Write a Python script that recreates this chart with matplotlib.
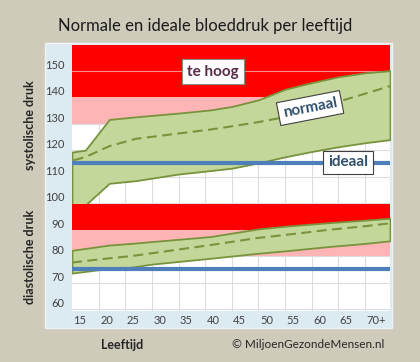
import matplotlib
matplotlib.use("Agg")
import matplotlib.pyplot as plt
from matplotlib.patches import Rectangle
from matplotlib.transforms import blended_transform_factory, ScaledTranslation

# ---- data ----
age_ticks = [15, 20, 25, 30, 35, 40, 45, 50, 55, 60, 65, 70]
age_labels = ["15", "20", "25", "30", "35", "40", "45", "50", "55", "60", "65", "70+"]
y_ticks = [60, 70, 80, 90, 100, 110, 120, 130, 140, 150]

# systolic band
sys_age = [15, 17.5, 22, 27, 35, 41, 45, 50, 55, 60, 65, 70, 74.7]
sys_low = [99.3, 99.3, 107.5, 108.5, 111, 112.3, 113.2, 115.2, 117.5, 119.5, 121.3, 122.8, 124]
sys_high = [119.3, 120, 131.6, 132.6, 134, 135.2, 136.5, 139, 143, 145.5, 147.7, 149.2, 150]
sys_mid_age = [15.3, 17.5, 22, 27, 35, 41, 45, 50, 55, 60, 65, 70, 74.7]
sys_mid = [116.2, 117.4, 121.5, 124.3, 126.3, 127.8, 129, 130.6, 132.5, 135.3, 138.3, 141.3, 144.2]

# diastolic band
dia_age = [15, 22, 26, 30, 41, 50, 55, 63, 70, 74.7]
dia_low = [73.6, 75.4, 75.8, 77, 79.2, 81.1, 82, 83.6, 84.8, 85.8]
dia_high = [82.2, 84.2, 84.8, 85.5, 87.4, 90.3, 91.3, 92.6, 93.6, 94.3]
dia_mid = [77.6, 79.2, 80, 81.1, 84.2, 86.9, 88, 89.9, 91.3, 92.4]

ideal_sys = 115
ideal_dia = 75

# zones: (low, high, colour)
zones = [(140, 159.7, "#ff0000"), (130, 140, "#ffb5b5"),
         (80, 90, "#ffb5b5")]
dia_red = (90, 99.5)

W, H = 420, 362
fig = plt.figure(figsize=(W / 100, H / 100), dpi=100)
fig.patch.set_facecolor("#cfcbbb")

# light-blue panel
panel = Rectangle((45 / W, 1 - 328 / H), 347 / W, 285 / H,
                  transform=fig.transFigure, facecolor="#dceaf2",
                  edgecolor="#eef4f7", lw=1.0, zorder=-5)
fig.patches.append(panel)

ax = fig.add_axes([72 / W, 1 - 311 / H, 318 / W, 266 / H])
ax.set_zorder(5)
ax.set_facecolor("white")
ax.set_xlim(15, 74.7)
ax.set_ylim(59.3, 159.7)
for s in ax.spines.values():
    s.set_visible(False)
ax.set_xticks([])
ax.set_yticks([])

# grid
for a in age_ticks[1:]:
    ax.axvline(a, color="#dcdcdc", lw=0.8, zorder=0.5)
for v in y_ticks:
    ax.axhline(v, color="#dcdcdc", lw=0.8, zorder=0.5)

# zones
for lo, hi, c in zones:
    ax.axhspan(lo, hi, color=c, lw=0, zorder=1)
ax.axhline(150, color="#ff8c8c", lw=0.8, zorder=1.5)

# systolic band
ax.fill_between(sys_age, sys_low, sys_high, facecolor="#c4d79b",
                edgecolor="#77933c", lw=1.3, zorder=2)
ax.axhspan(dia_red[0], dia_red[1], color="#ff0000", lw=0, zorder=2.5)
# diastolic band
ax.fill_between(dia_age, dia_low, dia_high, facecolor="#c4d79b",
                edgecolor="#77933c", lw=1.3, zorder=3)

dash = (0, (4.8, 2.6))
ax.plot(sys_mid_age, sys_mid, color="#77933c", lw=1.5, ls=dash, zorder=3.5)
ax.plot(dia_age, dia_mid, color="#77933c", lw=1.5, ls=dash, zorder=3.5)

ax.axhline(ideal_sys, color="#4f7fbb", lw=3.0, zorder=4)
ax.axhline(ideal_dia, color="#4f7fbb", lw=3.0, zorder=4)

# tick labels
tf_y = blended_transform_factory(ax.transAxes, ax.transData) + \
    ScaledTranslation(-0.075, 0.055, fig.dpi_scale_trans)
for v in y_ticks:
    ax.text(0, v, str(v), transform=tf_y, ha="right", va="center",
            fontsize=8, color="#404040", family="Lato", clip_on=False)
tf_x = blended_transform_factory(ax.transData, ax.transAxes) + \
    ScaledTranslation(0.015, -0.10, fig.dpi_scale_trans)
for a, lab in zip(age_ticks, age_labels):
    ax.text(a, 0, lab, transform=tf_x, ha="left", va="center",
            fontsize=8, color="#404040", family="Lato", clip_on=False)

# annotations
ax.text(41.5, 149.6, "te hoog", ha="center", va="center", fontsize=11,
        fontweight="bold", color="#5a2a48", family="Lato", zorder=6,
        bbox=dict(boxstyle="square,pad=0.35", fc="white", ec="#8a8a8a", lw=0.8))
ax.text(59.7, 135.9, "normaal", ha="center", va="center", fontsize=11,
        fontweight="bold", color="#2f4f6f", family="Lato", rotation=11,
        rotation_mode="anchor", zorder=6,
        bbox=dict(boxstyle="square,pad=0.3", fc="white", ec="#404040", lw=0.8))
ax.text(66.8, 115.4, "ideaal", ha="center", va="center", fontsize=11,
        fontweight="bold", color="#2f4f6f", family="Lato", zorder=6,
        bbox=dict(boxstyle="square,pad=0.3", fc="white", ec="#404040", lw=0.8))

# figure texts
fig.text(205 / W, 1 - 26 / H, "Normale en ideale bloeddruk per leeftijd",
         ha="center", va="center", fontsize=12, color="#1a1a1a", family="Lato")
fig.text(30 / W, 1 - 125 / H, "systolische druk", rotation=90, ha="center",
         va="center", fontsize=9, fontweight="bold", color="#262626", family="Lato")
fig.text(30 / W, 1 - 257 / H, "diastolische druk", rotation=90, ha="center",
         va="center", fontsize=9, fontweight="bold", color="#262626", family="Lato")
fig.text(122 / W, 1 - 345 / H, "Leeftijd", ha="center", va="center",
         fontsize=9, fontweight="bold", color="#262626", family="Lato")
fig.text(308 / W, 1 - 345 / H, "© MiljoenGezondeMensen.nl", ha="center",
         va="center", fontsize=8.5, color="#262626", family="Lato")

fig.savefig("out.png", dpi=100, facecolor=fig.get_facecolor())
